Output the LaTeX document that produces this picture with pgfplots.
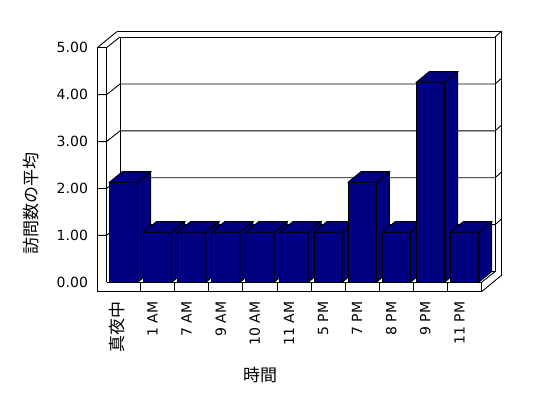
\documentclass[border=0pt]{standalone}
\usepackage{pgfplots}
\usepackage{pgfplotstable}
\pgfplotsset{compat=1.18}
\usepackage{fontspec}
\setmainfont{DejaVu Sans}
\newfontfamily\cjk{Noto Sans CJK JP}
\definecolor{barnavy}{RGB}{0,0,128}

\pgfplotstableread{
idx v
0 2
1 1
2 1
3 1
4 1
5 1
6 1
7 2
8 1
9 4
10 1
}\visits

\begin{document}
\begin{tikzpicture}[x=1pt,y=1pt]
\path[use as bounding box] (0,0) rectangle (548,398);
\begin{scope}[line width=0.9pt]
% back wall inner face
\draw (120,126.4) rectangle (495,361);
% back wall rim
\draw (116.8,366.3) -- (501,366.3) -- (501,122.3);
\draw (495,361) -- (501,366.3);
% left wall
\draw (97.3,106.3) -- (97.3,350.3) -- (106.5,350.3) -- (106.5,115.7);
\draw (97.3,350.3) -- (116.8,366.3);
\draw (106.5,350.3) -- (120,361);
% floor
\draw (97.3,106.3) -- (481.55,106.3) -- (481.55,115.7) -- (106.5,115.7);
\draw (481.55,115.7) -- (495,126.4);
\draw (481.55,106.3) -- (501,122.3);
\foreach \k in {0,...,9} \draw (140.6+34.1*\k,106.3) -- (140.6+34.1*\k,115.7);
% gridlines
\foreach \v in {1,...,4} {
  \pgfmathsetmacro\Y{115.7+46.9*\v}
  \draw (97.3,\Y) -- (106.5,\Y) -- (120,\Y+10.7) -- (495,\Y+10.7) -- (501,\Y+16);
}
\end{scope}
\begin{axis}[
  at={(106.45pt,115.7pt)}, anchor=south west,
  scale only axis, width=375.1pt, height=234.5pt,
  xmin=-0.5, xmax=10.5, ymin=0, ymax=5,
  enlargelimits=false, clip=false,
  axis line style={draw=none}, major tick length=0pt,
  xtick={0,...,10},
  xticklabels={{\fontsize{17}{20}\selectfont\cjk 真夜中},1 AM,7 AM,9 AM,10 AM,11 AM,5 PM,7 PM,8 PM,9 PM,11 PM},
  ytick={0,1,2,3,4,5},
  /pgf/number format/fixed,
  /pgf/number format/fixed zerofill,
  /pgf/number format/precision=2,
  /pgf/number format/assume math mode=true,
  tick label style={font=\fontsize{14}{16}\selectfont},
  yticklabel style={xshift=-15pt},
  xticklabel style={rotate=90, anchor=base east},
  xticklabel shift=16pt,
  xlabel={\cjk 時間}, ylabel={\cjk 訪問数の平均},
  label style={font=\fontsize{17}{20}\selectfont},
  xlabel style={at={(axis description cs:0.41,-0.394)}, anchor=center},
  ylabel style={at={(axis description cs:-0.201,0.338)}, anchor=center},
]
\addplot[scatter, only marks, mark=*, mark size=0pt, point meta=y,
  visualization depends on={\thisrow{v} \as \rawv},
  scatter/@pre marker code/.code={%
    \pgfmathsetmacro\bB{-46.9*\rawv}%
    \pgfmathsetmacro\bT{3.1*\rawv}%
    \filldraw[fill=barnavy, draw=black, line width=0.9pt, line join=miter]
      (-14.15pt,\bB pt) rectangle (14.15pt,\bT pt);
    \filldraw[fill=barnavy, draw=black, line width=0.9pt, line join=miter]
      (14.15pt,\bB pt) -- (27.15pt,\bB pt+10.7pt) -- (27.15pt,\bT pt+10.7pt) -- (14.15pt,\bT pt) -- cycle;
    \filldraw[fill=barnavy, draw=black, line width=0.9pt, line join=miter]
      (-14.15pt,\bT pt) -- (14.15pt,\bT pt) -- (27.15pt,\bT pt+10.7pt) -- (-1.15pt,\bT pt+10.7pt) -- cycle;
  },
  scatter/@post marker code/.code={},
] table[x=idx,y=v]{\visits};
\end{axis}
\end{tikzpicture}
\end{document}
